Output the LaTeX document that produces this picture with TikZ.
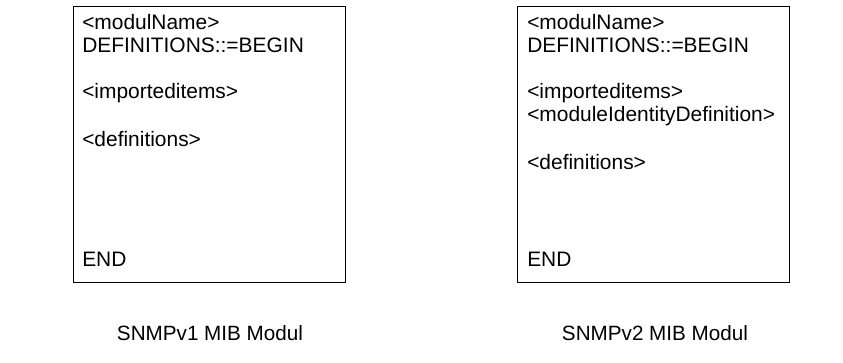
\documentclass[tikz,border=0pt]{standalone}
\usepackage{fontspec}
\setmainfont{Liberation Sans}
\usetikzlibrary{positioning}

\tikzset{
  modbox/.style={draw, line width=0.75pt, minimum width=272*0.75pt, minimum height=276*0.75pt, inner sep=0pt},
  modline/.style={anchor=west, inner sep=0pt, font=\fontsize{15.7pt}{17pt}\selectfont},
  modcap/.style={inner sep=0pt, font=\fontsize{15.5pt}{17pt}\selectfont}
}

\begin{document}
\begin{tikzpicture}[x=0.75pt,y=0.75pt,yscale=-1,xscale=1]
\useasboundingbox (0,0) rectangle (843,363);

% SNMPv1 module
\node [modbox] (v1box) at (209,145) {};
\node [modline] (v1name) at (82,22) {<modulName>};
\node [modline] (v1def) at (82,45) {DEFINITIONS::=BEGIN};
\node [modline] (v1imp) at (82,93) {<importeditems>};
\node [modline] (v1defs) at (82,139) {<definitions>};
\node [modline] (v1end) at (82,259) {END};
\node [modcap] (v1cap) at (210,333) {SNMPv1 MIB Modul};

% SNMPv2 module
\node [modbox] (v2box) at (653,145) {};
\node [modline] (v2name) at (527,22) {<modulName>};
\node [modline] (v2def) at (527,45) {DEFINITIONS::=BEGIN};
\node [modline] (v2imp) at (527,93) {<importeditems>};
\node [modline] (v2ident) at (527,116) {<moduleIdentityDefinition>};
\node [modline] (v2defs) at (527,162) {<definitions>};
\node [modline] (v2end) at (527,259) {END};
\node [modcap] (v2cap) at (655,333) {SNMPv2 MIB Modul};

\end{tikzpicture}
\end{document}
